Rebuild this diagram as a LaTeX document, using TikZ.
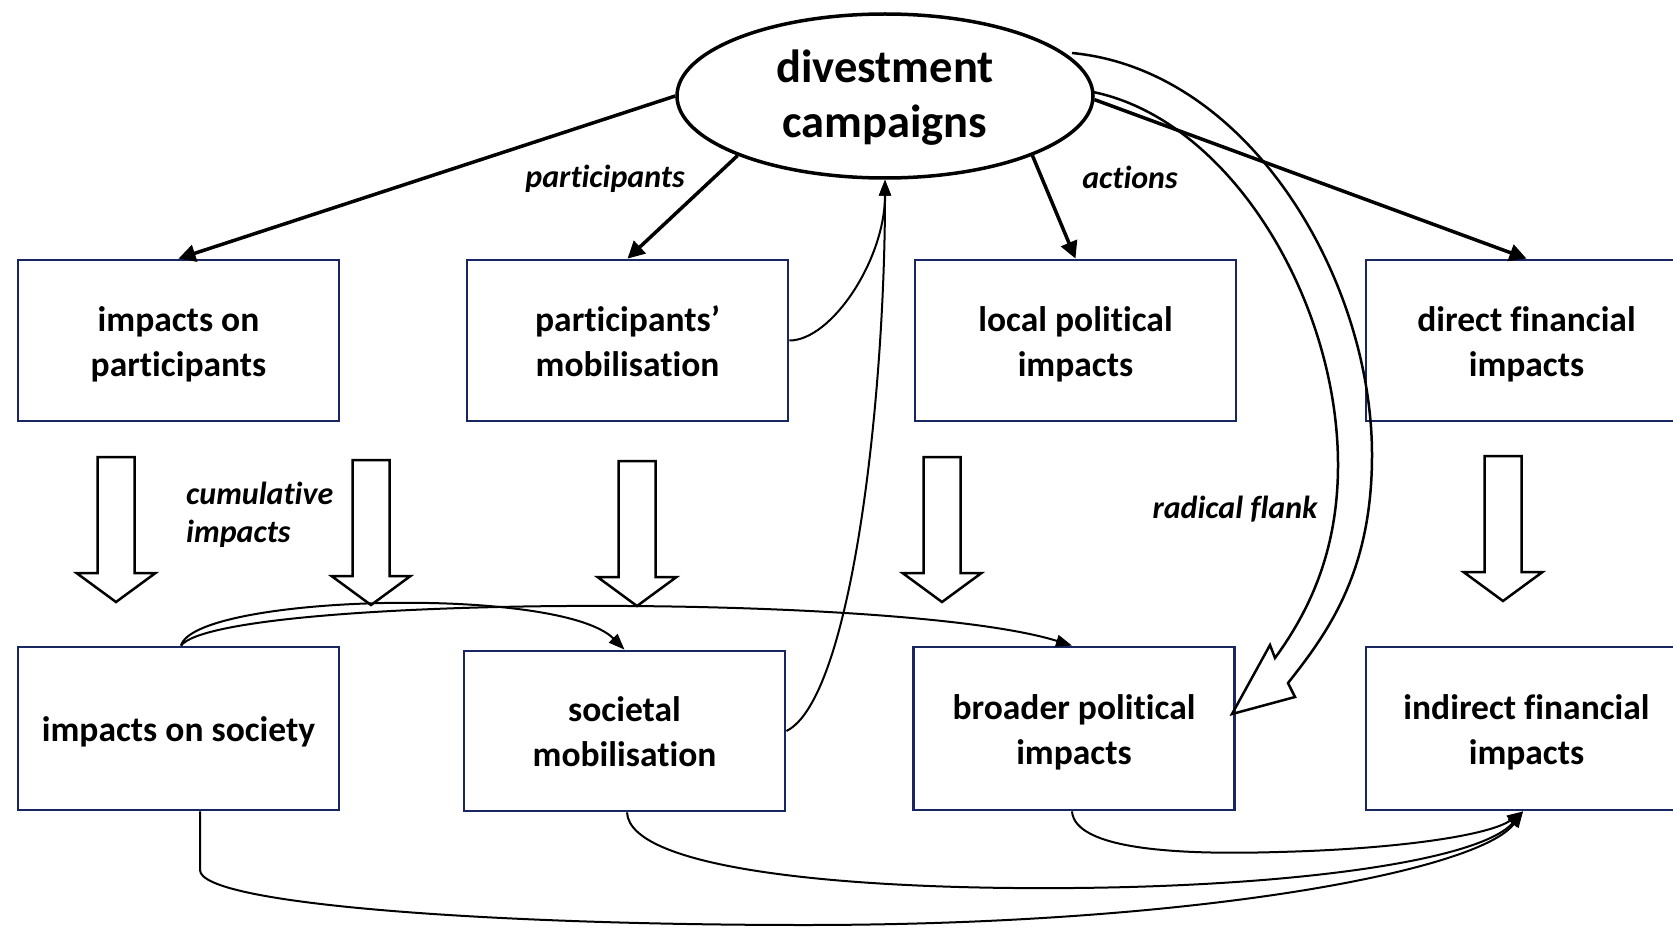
\documentclass[tikz,border=0pt]{standalone}
\usepackage{fontspec}
\setmainfont{Carlito}[Ligatures=NoCommon]
\usetikzlibrary{arrows.meta,shapes.geometric,calc}
\definecolor{navy}{RGB}{25,38,100}
\newcommand\boxtext[1]{\raisebox{-4pt}[\height][\depth]{\begin{tabular}{@{}c@{}}#1\end{tabular}}}
\begin{document}
\begin{tikzpicture}[x=1pt,y=-1pt,
  box/.style={draw=navy,line width=2.8pt,minimum width=321pt,minimum height=161pt,inner sep=0pt,align=center,font=\fontsize{35.5}{45}\selectfont\bfseries},
  lbl/.style={font=\fontsize{32}{38}\selectfont\bfseries\itshape,inner sep=0pt},
  thick arrow/.style={line width=3.5pt,-{Triangle[length=17pt,width=17pt]}},
  thin arrow/.style={line width=2pt,-{Triangle[length=16pt,width=12pt]}},
  hollow/.style={line width=2.5pt,line join=miter},
  blockdown/.pic={\draw[hollow] (-18.5,0) -- (-18.5,116) -- (-39.5,116) -- (0,145) -- (39.5,116) -- (18.5,116) -- (18.5,0) -- cycle;}
]
\useasboundingbox (0,0) rectangle (1673,928);

% central ellipse
\node[ellipse,draw,line width=3.5pt,minimum width=416pt,minimum height=164pt,inner sep=0pt,align=center,font=\fontsize{46.5}{55}\selectfont\bfseries] (e) at (885,96) {\raisebox{-3pt}[\height][\depth]{\begin{tabular}{@{}c@{}}divestment\\campaigns\end{tabular}}};

% top row
\node[box] (p1) at (178.5,340.5) {\boxtext{impacts on\\participants}};
\node[box] (p2) at (627.5,340.5) {\boxtext{participants’\\mobilisation}};
\node[box] (p3) at (1075.5,340.5) {\boxtext{local political\\impacts}};
\node[box] (p4) at (1526.5,340.5) {\boxtext{direct financial\\impacts}};

% bottom row
\node[box,minimum height=163pt] (b1) at (178.5,728.5) {\boxtext{impacts on society}};
\node[box,minimum height=160pt] (b2) at (624.5,731) {\boxtext{societal\\mobilisation}};
\node[box,minimum height=163pt] (b3) at (1074,728.5) {\boxtext{broader political\\impacts}};
\node[box,minimum height=163pt] (b4) at (1526.5,728.5) {\boxtext{indirect financial\\impacts}};

% labels
\node[lbl] (lpart) at (605,179) {participants};
\node[lbl] (lact) at (1130,177) {actions};
\node[lbl,anchor=west,align=left] (lcum) at (186,515) {cumulative\\impacts};
\node[lbl] (lrad) at (1235,509) {radical flank};

% arrows from ellipse
\draw[thick arrow] (e.180) -- (p1.north);
\draw[thick arrow] (e.202) -- (p2.north);
\draw[thick arrow] (e.338) -- (p3.north);
\draw[thick arrow] (e.359) -- (p4.north);

% feedback to ellipse
\draw[thin arrow] (p2.east) .. controls ($(p2.east)+(42,0)$) and ($(e.south)+(0,80)$) .. (e.south);
\draw[thin arrow] (b2.east) .. controls ($(b2.east)+(65,-32)$) and ($(e.south)+(0,220)$) .. (e.south);

% radical flank hollow arrow
\draw[hollow] (1072,53) .. controls (1250,70) and (1372,280) .. (1372,455)
  .. controls (1372,570) and (1330,630) .. (1288,683)
  -- (1295,697) -- (1232,714) -- (1270,645) -- (1275,658)
  .. controls (1310,610) and (1338,550) .. (1338,465)
  .. controls (1338,300) and (1230,120) .. (1093,92);

% block down arrows
\pic at (116,457) {blockdown};
\pic at (371,460) {blockdown};
\pic at (637,461) {blockdown};
\pic at (942,457) {blockdown};
\pic at (1503,456) {blockdown};

% cumulative curves
\coordinate (b1t) at ($(b1.north)+(2.5,0)$);
\draw[thin arrow] (b1t) .. controls (195,595) and (560,585) .. (b2.north);
\draw[thin arrow] (b1t) .. controls (220,595) and (900,592) .. ($(b3.north)+(-2,0)$);

% bottom curves to indirect financial
\coordinate (b4b) at ($(b4.south)+(-3.5,0)$);
\draw[thin arrow] ($(b1.south)+(21.5,0)$) -- (200,870) .. controls (200,905) and (500,925) .. (805,925) .. controls (1200,925) and (1480,870) .. (b4b);
\draw[thin arrow] ($(b2.south)+(2.5,0)$) .. controls (630,870) and (850,890) .. (1073,888) .. controls (1300,886) and (1480,860) .. (b4b);
\draw[thin arrow] ($(b3.south)+(-2,0)$) .. controls (1075,850) and (1180,855) .. (1278,852) .. controls (1400,849) and (1490,835) .. (b4b);
\end{tikzpicture}
\end{document}
